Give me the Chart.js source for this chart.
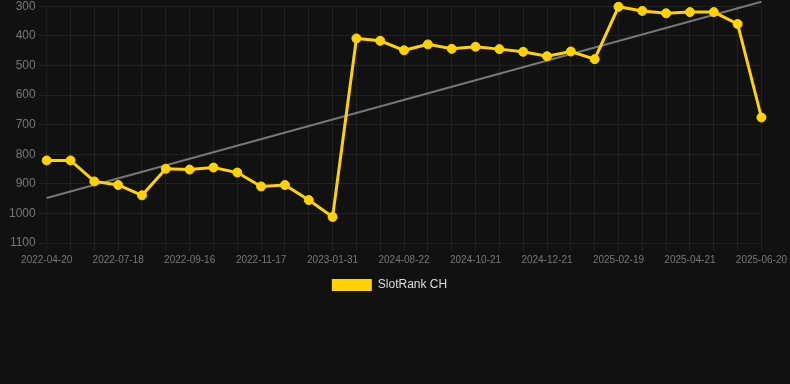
<!DOCTYPE html>
<html>
<head>
<meta charset="utf-8">
<script src="https://cdn.jsdelivr.net/npm/chart.js@4"></script>
<style>
  html, body { margin: 0; padding: 0; background: #111111; overflow: hidden; }
  #wrap { position: relative; width: 790px; height: 305px; margin-top: -4px; }
</style>
</head>
<body>
<div id="wrap"><canvas id="rankChart"></canvas></div>
<script>
const dates = [
  "2022-04-20", "2022-05-20", "2022-06-19", "2022-07-18", "2022-08-02", "2022-08-17",
  "2022-09-16", "2022-10-06", "2022-10-27", "2022-11-17", "2022-12-08", "2022-12-29",
  "2023-01-31", "2024-07-02", "2024-07-27", "2024-08-22", "2024-09-11", "2024-10-01",
  "2024-10-21", "2024-11-10", "2024-11-30", "2024-12-21", "2025-01-10", "2025-01-30",
  "2025-02-19", "2025-03-11", "2025-04-01", "2025-04-21", "2025-05-11", "2025-05-31",
  "2025-06-20"
];
const slotRank = [
  821, 821, 892, 904, 939, 849, 852, 845, 862, 909, 904, 955,
  1012, 409, 417, 449, 429, 444, 437, 445, 454, 469, 453, 479,
  302, 316, 324, 320, 320, 360, 676
];
const trendEnds = [948, 285];
const yTicks = [300, 400, 500, 600, 700, 800, 900, 1000, 1100];

// nudge the legend row a little left, as in the original
const legendNudge = {
  id: "legendNudge",
  afterLayout: function (chart) {
    if (chart.legend && chart.legend.lineWidths && chart.legend.lineWidths.length) {
      chart.legend.lineWidths[0] += 17;
    }
  }
};

document.addEventListener("DOMContentLoaded", function () {
  const canvas = document.getElementById("rankChart");
  if (!canvas || typeof Chart === "undefined") return;

  const trend = dates.map(function (_d, i) {
    if (i === 0) return trendEnds[0];
    if (i === dates.length - 1) return trendEnds[1];
    return null;
  });
  const font = "Arial, 'Liberation Sans', sans-serif";

  new Chart(canvas, {
    type: "line",
    data: {
      labels: dates,
      datasets: [
        {label: "SlotRank CH", data: slotRank, borderColor: "#ffd200", backgroundColor: "#ffd200", borderWidth: 3, pointRadius: 4.5, pointBorderWidth: 1, pointHoverRadius: 5, tension: 0, fill: false, clip: false},
        {label: "trend", data: trend, borderColor: "#777777", borderWidth: 2, pointRadius: 0, spanGaps: true, fill: false, clip: false}
      ]
    },
    plugins: [legendNudge],
    options: {
      responsive: true,
      maintainAspectRatio: false,
      animation: false,
      layout: {padding: {left: 6}},
      plugins: {
        legend: {
          position: "bottom",
          labels: {
            color: "#dddddd",
            boxWidth: 40,
            boxHeight: 12,
            font: {family: font, size: 12},
            generateLabels: function (chart) {
              return Chart.defaults.plugins.legend.labels.generateLabels(chart)
                .filter(function (item) { return item.text !== "trend"; })
                .map(function (item) { item.lineWidth = 0; return item; });
            }
          }
        },
        tooltip: {enabled: false}
      },
      scales: {
        x: {
          grid: {color: "#222222"},
          ticks: {
            color: "#777777",
            autoSkip: false,
            maxRotation: 0,
            font: {family: font, size: 10},
            callback: function (_v, i) { return i % 3 === 0 ? dates[i] : ""; }
          }
        },
        y: {
          reverse: true,
          min: yTicks[0],
          max: yTicks[yTicks.length - 1],
          grid: {color: "#222222"},
          afterBuildTicks: function (axis) { axis.ticks = yTicks.map(function (v) { return {value: v}; }); },
          ticks: {color: "#777777", font: {family: font, size: 12}, callback: function (v) { return String(v); }}
        }
      }
    }
  });
});
</script>
</body>
</html>
